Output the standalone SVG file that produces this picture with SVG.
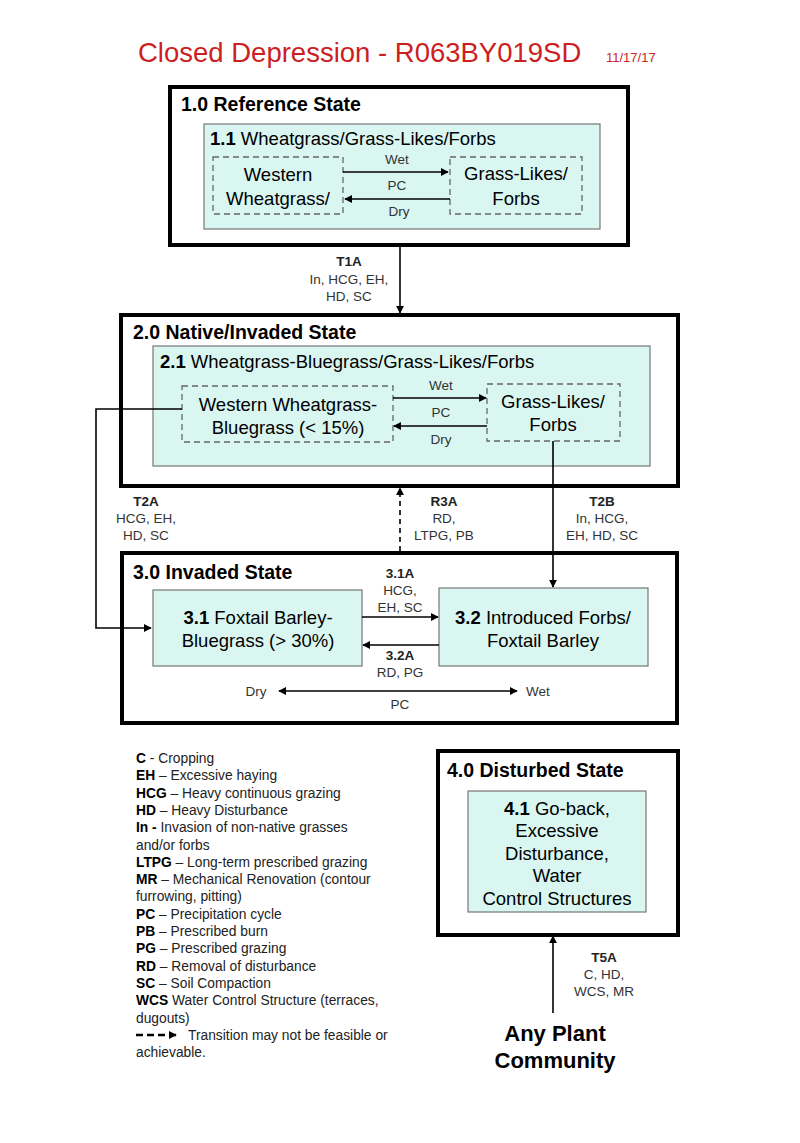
<svg xmlns="http://www.w3.org/2000/svg" width="800" height="1143" viewBox="0 0 800 1143">
<style>
text{font-family:"Liberation Sans",Arial,sans-serif;fill:#000}
.state{fill:#fff;stroke:#000;stroke-width:4}
.comm{fill:#d9f6f1;stroke:#777;stroke-width:1.2}
.phase{fill:none;stroke:#666;stroke-width:1.3;stroke-dasharray:6,4}
.st{font-size:19.5px;font-weight:bold}
.ct{font-size:18.5px}
.nt{font-size:18.5px;text-anchor:middle}
.lbl{font-size:13.5px;fill:#333;text-anchor:middle}
.lb{font-size:13.5px;font-weight:bold;fill:#222;text-anchor:middle}
.ln{fill:none;stroke:#000;stroke-width:1.6}
.dash{stroke-dasharray:5,4}
.lg{font-size:13.8px;fill:#222}
.lg tspan.b{font-weight:bold;fill:#000}
</style>
<defs>
<marker id="ah" viewBox="0 0 10 10" refX="9" refY="5" markerWidth="8" markerHeight="8" orient="auto-start-reverse" markerUnits="userSpaceOnUse">
<path d="M0,0 L10,5 L0,10 z" fill="#000"/>
</marker>
</defs>

<g id="title">
<text x="138" y="62" font-size="27.5" style="fill:#cc1f1f">Closed Depression - R063BY019SD</text>
<text x="606" y="62" font-size="13" style="fill:#cc1f1f">11/17/17</text>
</g>

<g id="state1">
<rect class="state" x="170" y="87" width="458" height="158"/>
<text class="st" x="181" y="111">1.0 Reference State</text>
<rect class="comm" x="204" y="124" width="396" height="105"/>
<text class="ct" x="210" y="145"><tspan font-weight="bold">1.1</tspan> Wheatgrass/Grass-Likes/Forbs</text>
<rect class="phase" x="213" y="157" width="130" height="57"/>
<text class="nt" x="278" y="181">Western</text>
<text class="nt" x="278" y="205">Wheatgrass/</text>
<rect class="phase" x="450" y="157" width="132" height="57"/>
<text class="nt" x="516" y="180">Grass-Likes/</text>
<text class="nt" x="516" y="205">Forbs</text>
</g>

<g id="state2">
<rect class="state" x="121" y="315" width="557" height="171"/>
<text class="st" x="133" y="339">2.0 Native/Invaded State</text>
<rect class="comm" x="153" y="346" width="497" height="120"/>
<text class="ct" x="160" y="368"><tspan font-weight="bold">2.1</tspan> Wheatgrass-Bluegrass/Grass-Likes/Forbs</text>
<rect class="phase" x="182" y="386" width="211" height="56"/>
<text class="nt" x="288" y="411">Western Wheatgrass-</text>
<text class="nt" x="288" y="434">Bluegrass (&lt; 15%)</text>
<rect class="phase" x="487" y="384" width="133" height="57"/>
<text class="nt" x="553" y="408">Grass-Likes/</text>
<text class="nt" x="553" y="431">Forbs</text>
</g>

<g id="state3">
<rect class="state" x="122" y="553" width="555" height="170"/>
<text class="st" x="133" y="579">3.0 Invaded State</text>
<rect class="comm" x="153" y="590" width="209" height="76"/>
<text class="nt" x="258" y="624"><tspan font-weight="bold">3.1</tspan> Foxtail Barley-</text>
<text class="nt" x="258" y="647">Bluegrass (&gt; 30%)</text>
<rect class="comm" x="439" y="588" width="209" height="78"/>
<text class="nt" x="543" y="624"><tspan font-weight="bold">3.2</tspan> Introduced Forbs/</text>
<text class="nt" x="543" y="647">Foxtail Barley</text>
</g>

<g id="state4">
<rect class="state" x="438" y="751" width="240" height="184"/>
<text class="st" x="447" y="777">4.0 Disturbed State</text>
<rect class="comm" x="468" y="791" width="178" height="121"/>
<text class="nt" x="557" y="815"><tspan font-weight="bold">4.1</tspan> Go-back,</text>
<text class="nt" x="557" y="837">Excessive</text>
<text class="nt" x="557" y="860">Disturbance,</text>
<text class="nt" x="557" y="882">Water</text>
<text class="nt" x="557" y="905">Control Structures</text>
</g>

<g id="anyplant">
<text x="555" y="1041" font-size="22" font-weight="bold" text-anchor="middle">Any Plant</text>
<text x="555" y="1068" font-size="22" font-weight="bold" text-anchor="middle">Community</text>
</g>

<g id="connectors">
<line class="ln" x1="343" y1="172" x2="448" y2="172" marker-end="url(#ah)"/>
<line class="ln" x1="450" y1="199" x2="345" y2="199" marker-end="url(#ah)"/>
<line class="ln" x1="400" y1="247" x2="400" y2="313" marker-end="url(#ah)"/>
<line class="ln" x1="393" y1="398" x2="486" y2="398" marker-end="url(#ah)"/>
<line class="ln" x1="487" y1="426" x2="394" y2="426" marker-end="url(#ah)"/>
<polyline class="ln" points="182,409 96,409 96,628 151,628" marker-end="url(#ah)"/>
<polyline class="ln" points="553,441 553,587" marker-end="url(#ah)"/>
<line class="ln dash" x1="400" y1="551" x2="400" y2="488" marker-end="url(#ah)"/>
<line class="ln" x1="362" y1="617" x2="438" y2="617" marker-end="url(#ah)"/>
<line class="ln" x1="439" y1="645" x2="363" y2="645" marker-end="url(#ah)"/>
<line class="ln" x1="279" y1="691" x2="517" y2="691" marker-start="url(#ah)" marker-end="url(#ah)"/>
<line class="ln" x1="553" y1="1013" x2="553" y2="936" marker-end="url(#ah)"/>
</g>

<g id="labels">
<text class="lbl" x="397" y="164">Wet</text>
<text class="lbl" x="397" y="190">PC</text>
<text class="lbl" x="399" y="216">Dry</text>
<text class="lb" x="349" y="266">T1A</text>
<text class="lbl" x="349" y="284">In, HCG, EH,</text>
<text class="lbl" x="349" y="301">HD, SC</text>
<text class="lbl" x="441" y="390">Wet</text>
<text class="lbl" x="441" y="417">PC</text>
<text class="lbl" x="441" y="444">Dry</text>
<text class="lb" x="146" y="506">T2A</text>
<text class="lbl" x="146" y="523">HCG, EH,</text>
<text class="lbl" x="146" y="540">HD, SC</text>
<text class="lb" x="444" y="506">R3A</text>
<text class="lbl" x="444" y="523">RD,</text>
<text class="lbl" x="444" y="540">LTPG, PB</text>
<text class="lb" x="602" y="506">T2B</text>
<text class="lbl" x="602" y="523">In, HCG,</text>
<text class="lbl" x="602" y="540">EH, HD, SC</text>
<text class="lb" x="400" y="578">3.1A</text>
<text class="lbl" x="400" y="595">HCG,</text>
<text class="lbl" x="400" y="612">EH, SC</text>
<text class="lb" x="400" y="660">3.2A</text>
<text class="lbl" x="400" y="677">RD, PG</text>
<text class="lbl" x="256" y="696">Dry</text>
<text class="lbl" x="538" y="696">Wet</text>
<text class="lbl" x="400" y="709">PC</text>
<text class="lb" x="604" y="962">T5A</text>
<text class="lbl" x="604" y="979">C, HD,</text>
<text class="lbl" x="604" y="996">WCS, MR</text>
</g>

<g id="legend">
<text class="lg" x="136" y="763"><tspan class="b">C</tspan> - Cropping</text>
<text class="lg" x="136" y="780.3"><tspan class="b">EH</tspan> – Excessive haying</text>
<text class="lg" x="136" y="797.6"><tspan class="b">HCG</tspan> – Heavy continuous grazing</text>
<text class="lg" x="136" y="814.9"><tspan class="b">HD</tspan> – Heavy Disturbance</text>
<text class="lg" x="136" y="832.2"><tspan class="b">In -</tspan> Invasion of non-native grasses</text>
<text class="lg" x="136" y="849.5">and/or forbs</text>
<text class="lg" x="136" y="866.8"><tspan class="b">LTPG</tspan> – Long-term prescribed grazing</text>
<text class="lg" x="136" y="884.1"><tspan class="b">MR</tspan> – Mechanical Renovation (contour</text>
<text class="lg" x="136" y="901.4">furrowing, pitting)</text>
<text class="lg" x="136" y="918.7"><tspan class="b">PC</tspan> – Precipitation cycle</text>
<text class="lg" x="136" y="936"><tspan class="b">PB</tspan> – Prescribed burn</text>
<text class="lg" x="136" y="953.3"><tspan class="b">PG</tspan> – Prescribed grazing</text>
<text class="lg" x="136" y="970.6"><tspan class="b">RD</tspan> – Removal of disturbance</text>
<text class="lg" x="136" y="987.9"><tspan class="b">SC</tspan> – Soil Compaction</text>
<text class="lg" x="136" y="1005.2"><tspan class="b">WCS</tspan> Water Control Structure (terraces,</text>
<text class="lg" x="136" y="1022.5">dugouts)</text>
<line x1="136" y1="1035" x2="176" y2="1035" stroke="#000" stroke-width="2.5" stroke-dasharray="7,4" marker-end="url(#ah)"/>
<text class="lg" x="188" y="1039.8">Transition may not be feasible or</text>
<text class="lg" x="136" y="1057.1">achievable.</text>
</g>
</svg>
